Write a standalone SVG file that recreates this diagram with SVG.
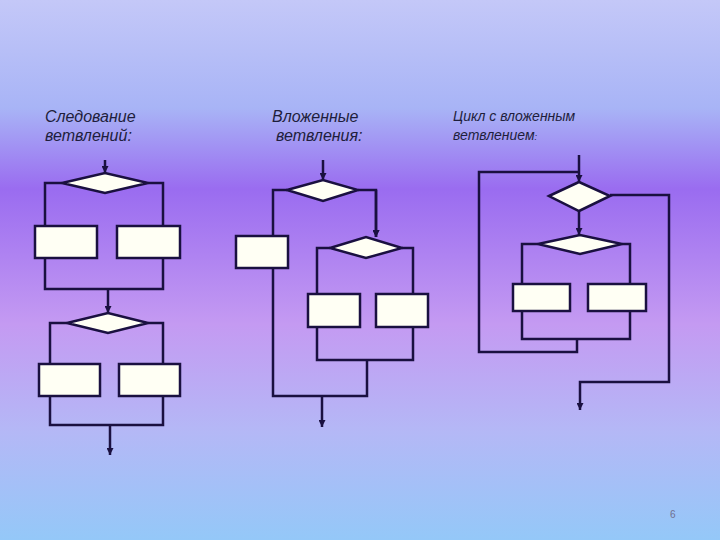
<svg xmlns="http://www.w3.org/2000/svg" width="720" height="540" viewBox="0 0 720 540">
<defs>
<linearGradient id="bg" x1="0" y1="0" x2="0" y2="1">
<stop offset="0" stop-color="#c4c8f8"/>
<stop offset="0.2" stop-color="#a8b4f6"/>
<stop offset="0.35" stop-color="#9a6cf0"/>
<stop offset="0.6" stop-color="#c49af2"/>
<stop offset="0.8" stop-color="#b4b8f6"/>
<stop offset="1" stop-color="#94c8f8"/>
</linearGradient>
<marker id="ar" viewBox="0 0 10 10" refX="10" refY="5" markerWidth="7" markerHeight="7" orient="auto" markerUnits="userSpaceOnUse"><path d="M0,0 L10,5 L0,10 z" fill="#1a1040"/></marker>
</defs>
<style>
.s{fill:#fffff4;stroke:#1a1040;stroke-width:2.5}
.c path{fill:none;stroke:#1a1040;stroke-width:2.5}
.t{font-family:"Liberation Sans",Arial,sans-serif;font-style:italic;fill:#1e1e3c}
</style>
<rect width="720" height="540" fill="url(#bg)"/>
<text class="t" x="45" y="122" font-size="16">Следование</text>
<text class="t" x="45" y="141" font-size="16">ветвлений:</text>
<text class="t" x="272" y="122" font-size="16">Вложенные</text>
<text class="t" x="276" y="141" font-size="16">ветвления:</text>
<text class="t" x="453" y="121" font-size="14">Цикл с вложенным</text>
<text class="t" x="453" y="140" font-size="14">ветвлением<tspan font-size="9">:</tspan></text>
<text x="670" y="518" font-size="10" font-family="Liberation Sans,Arial,sans-serif" fill="#707090">6</text>
<g class="c" id="connectors">
<path d="M105,160 V173" marker-end="url(#ar)"/>
<path d="M62,183 H45 V226 M148,183 H163 V226 M45,258 V289 H163 V258"/>
<path d="M108,289 V313" marker-end="url(#ar)"/>
<path d="M67,323 H50 V364 M148,323 H163 V364 M50,396 V425 H163 V396"/>
<path d="M110,425 V455" marker-end="url(#ar)"/>
<path d="M323,160 V180" marker-end="url(#ar)"/>
<path d="M287,190 H273 V396 H367 V360 M358,190 H376 V237" marker-end="url(#ar)"/>
<path d="M376,190 V237" marker-end="url(#ar)"/>
<path d="M330,248 H317 V294 M402,248 H413 V294 M317,327 V360 H413 V327"/>
<path d="M322,396 V427" marker-end="url(#ar)"/>
<path d="M579,155 V182" marker-end="url(#ar)"/>
<path d="M577,340 V352 H479 V172 H578"/>
<path d="M610,195 H669 V382 H580 V410" marker-end="url(#ar)"/>
<path d="M579,211 V235" marker-end="url(#ar)"/>
<path d="M538,244 H522 V284 M622,244 H630 V284 M522,311 V339 H630 V311"/>
</g>
<g id="d1"><polygon class="s" points="62,183 105,173 148,183 105,193"/></g>
<g id="r1"><rect class="s" x="35" y="226" width="62" height="32"/></g>
<g id="r2"><rect class="s" x="117" y="226" width="63" height="32"/></g>
<g id="d2"><polygon class="s" points="67,323 108,313 148,323 108,333"/></g>
<g id="r3"><rect class="s" x="39" y="364" width="61" height="32"/></g>
<g id="r4"><rect class="s" x="119" y="364" width="61" height="32"/></g>
<g id="d3"><polygon class="s" points="287,190 323,180 358,190 323,201"/></g>
<g id="r5"><rect class="s" x="236" y="236" width="52" height="32"/></g>
<g id="d4"><polygon class="s" points="330,248 366,237 402,248 366,258"/></g>
<g id="r6"><rect class="s" x="308" y="294" width="52" height="33"/></g>
<g id="r7"><rect class="s" x="376" y="294" width="52" height="33"/></g>
<g id="d5"><polygon class="s" points="549,196 579,182 610,196 579,211"/></g>
<g id="d6"><polygon class="s" points="538,244 580,235 622,244 580,254"/></g>
<g id="r8"><rect class="s" x="513" y="284" width="57" height="27"/></g>
<g id="r9"><rect class="s" x="588" y="284" width="58" height="27"/></g>
</svg>
